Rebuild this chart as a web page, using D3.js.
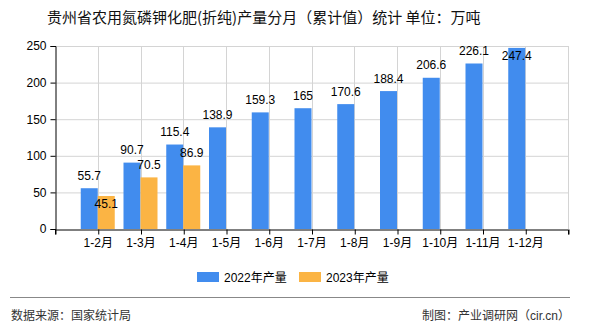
<!DOCTYPE html>
<html><head><meta charset="utf-8">
<script src="https://cdn.jsdelivr.net/npm/d3@7/dist/d3.min.js"></script>
<style>body{margin:0;background:#fff}svg{display:block}</style>
</head><body>
<script>
const categories = ["1-2月","1-3月","1-4月","1-5月","1-6月","1-7月","1-8月","1-9月","1-10月","1-11月","1-12月"];
const series2022 = [55.7,90.7,115.4,138.9,159.3,165,170.6,188.4,206.6,226.1,247.4];
const series2023 = [45.1,70.5,86.9,null,null,null,null,null,null,null,null];
const seriesNames = ["2022年产量","2023年产量"];
const yTicks = [0,50,100,150,200,250];
const titleText = "贵州省农用氮磷钾化肥(折纯)产量分月（累计值）统计 单位：万吨";
const sourceText = "数据来源：国家统计局";
const creditText = "制图：产业调研网（cir.cn）";

const W=590,H=330, L=55, R=568, T=46, B=229;
const colors=["#418CEE","#FBB444"];
const font="'Liberation Sans','Noto Sans CJK SC',sans-serif";
const svg=d3.select("body").append("svg").attr("width",W).attr("height",H).style("font-family",font);

svg.append("text").attr("x",47).attr("y",23).attr("font-size","15px").attr("fill","#111")
  .style("font-family","'Noto Sans CJK SC',sans-serif").text(titleText);

const x=d3.scalePoint().domain(["_s",...categories,"_e"]).range([L,R]);
const y=d3.scaleLinear().domain([0,250]).range([B,T]);

// grid
const g=svg.append("g");
g.selectAll(".hg").data(yTicks.slice(1)).join("line")
 .attr("x1",L).attr("x2",R).attr("y1",d=>y(d)+.5).attr("y2",d=>y(d)+.5).attr("stroke","#d4d4d4");
g.selectAll(".vg").data(x.domain().slice(1)).join("line")
 .attr("x1",d=>Math.round(x(d))+.5).attr("x2",d=>Math.round(x(d))+.5).attr("y1",T).attr("y2",B).attr("stroke","#d4d4d4");

// bars
const bw=17;
const bars=[];
categories.forEach((c,i)=>{
  [series2022[i],series2023[i]].forEach((v,s)=>{
    if(v==null)return;
    const x0=s===0?x(c)-bw:x(c);
    bars.push({c,v,s,x0});
  });
});
svg.append("g").selectAll("rect").data(bars).join("rect")
 .attr("x",d=>d.x0).attr("width",bw).attr("y",d=>y(d.v)).attr("height",d=>B-y(d.v)).attr("fill",d=>colors[d.s]);

// axes
const ya=svg.append("g").attr("transform",`translate(${L+.5},0)`)
 .call(d3.axisLeft(y).tickValues(yTicks).tickSize(5).tickPadding(4));
const xa=svg.append("g").attr("transform",`translate(0,${B+.5})`)
 .call(d3.axisBottom(x).tickSize(5).tickPadding(4).tickFormat(d=>d.startsWith("_")?"":d));
[ya,xa].forEach(a=>{a.select(".domain").attr("stroke","#000");a.selectAll(".tick line").attr("stroke","#000");
 a.selectAll("text").attr("fill","#000").attr("font-size","12px").style("font-family",font);});
xa.selectAll(".tick line").attr("transform","translate(0.5,0)");

// labels with simple collision avoidance
const boxes=[];
const lab=svg.append("g").attr("font-size","12px").attr("fill","#000").attr("text-anchor","middle");
bars.forEach(d=>{
  const cx=d.x0+bw/2, txt=String(d.v), w=txt.length*6;
  let base=y(d.v)-8.5;
  const overlap=b=>!(cx+w/2<b.x0||cx-w/2>b.x1||base<b.y0||base-9>b.y1);
  if(base-9<T-2||boxes.some(overlap)) base=y(d.v)+12.5;
  boxes.push({x0:cx-w/2,x1:cx+w/2,y0:base-9,y1:base});
  lab.append("text").attr("x",cx).attr("y",base).text(txt);
});

// legend
const lg=svg.append("g").attr("font-size","12px");
[[197,224],[299,326]].forEach((p,i)=>{
  lg.append("rect").attr("x",p[0]).attr("y",272).attr("width",22).attr("height",10).attr("fill",colors[i]);
  lg.append("text").attr("x",p[1]).attr("y",281.5).attr("fill","#000").text(seriesNames[i]);
});

// footer
svg.append("line").attr("x1",10).attr("x2",570).attr("y1",297.5).attr("y2",297.5).attr("stroke","#888");
svg.append("text").attr("x",11).attr("y",320).attr("font-size","12px").attr("fill","#333").text(sourceText);
svg.append("text").attr("x",570).attr("y",320).attr("text-anchor","end").attr("font-size","12px").attr("fill","#333").text(creditText);
</script>
</body></html>
